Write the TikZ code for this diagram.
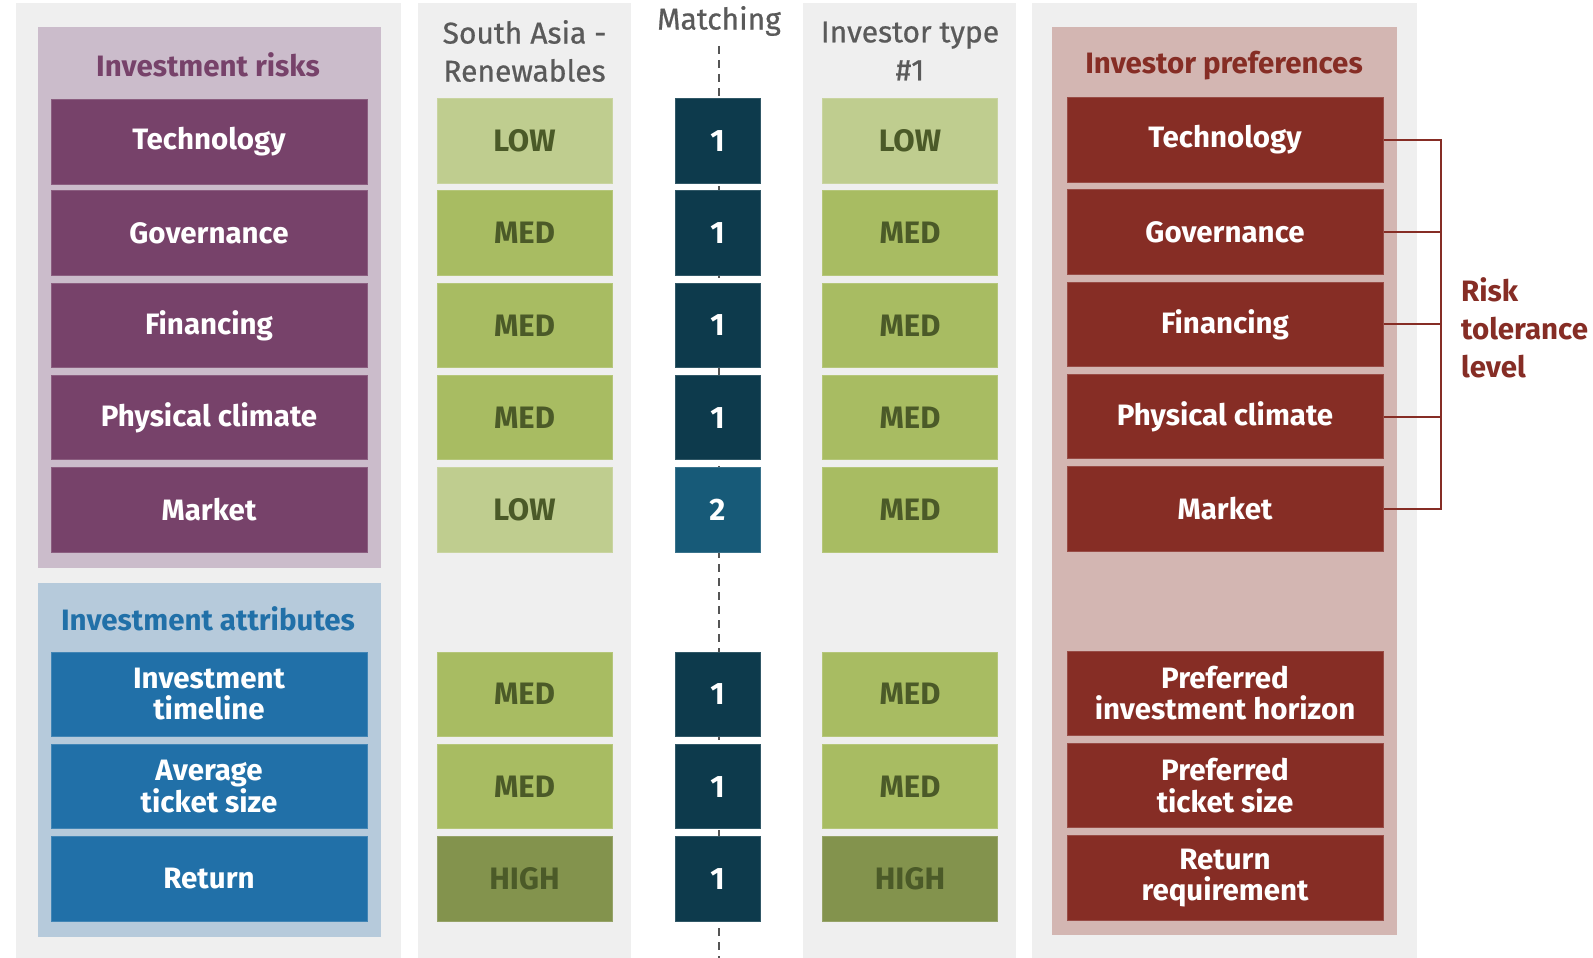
\documentclass[tikz,border=0pt]{standalone}
\usepackage{fontspec}
\setmainfont{Fira Sans}
\newfontfamily\medfam[FakeBold=0.7]{Fira Sans}
\definecolor{panelgrey}{HTML}{EFEFEF}
\definecolor{purplebg}{HTML}{CBBCCB}
\definecolor{purplebox}{HTML}{77426A}
\definecolor{bluebg}{HTML}{B6CADB}
\definecolor{bluebox}{HTML}{2170A8}
\definecolor{redbg}{HTML}{D3B6B2}
\definecolor{redbox}{HTML}{862D25}
\definecolor{glow}{HTML}{BFCD8F}
\definecolor{gmed}{HTML}{A8BC62}
\definecolor{ghigh}{HTML}{83934D}
\definecolor{gtext}{HTML}{4B5A28}
\definecolor{mdark}{HTML}{0D3A4C}
\definecolor{mlight}{HTML}{175A78}
\definecolor{headgrey}{HTML}{5A5A5A}
\definecolor{dashgrey}{HTML}{555555}
\newcommand\boxfont{\fontsize{29.5}{31.5}\selectfont\bfseries}
\newcommand\lvlfont{\fontsize{31}{31.5}\selectfont\bfseries}
\newcommand\headfont{\fontsize{30}{38}\selectfont\medfam}
\tikzset{
  x=1pt, y=-1pt,
  panel/.style={fill=panelgrey, draw=none},
  catbox/.style={minimum width=316pt, minimum height=84.5pt, inner sep=0pt, align=center, text=white, font=\boxfont},
  purplecell/.style={catbox, fill=purplebox, draw=purplebox!85!white, line width=1pt},
  bluecell/.style={catbox, fill=bluebox, draw=bluebox!85!white, line width=1pt},
  redcell/.style={catbox, fill=redbox, draw=redbox!85!white, line width=1pt},
  lvl/.style={minimum width=175pt, minimum height=84.5pt, inner sep=0pt, text=gtext, font=\lvlfont, line width=1pt},
  lowcell/.style={lvl, fill=glow, draw=glow!85!white},
  medcell/.style={lvl, fill=gmed, draw=gmed!85!white},
  highcell/.style={lvl, fill=ghigh, draw=ghigh!85!white},
  matchcell/.style={minimum width=85pt, minimum height=84.5pt, inner sep=0pt, text=white, font=\lvlfont, fill=mdark, draw=mdark!85!white, line width=1pt},
  match2cell/.style={matchcell, fill=mlight, draw=mlight!85!white},
  heading/.style={align=center, text=headgrey, font=\headfont, inner sep=0pt},
  title/.style={font=\boxfont, inner sep=0pt},
  brk/.style={draw=redbox, line width=2pt},
  dashline/.style={draw=dashgrey, line width=2pt, dash pattern=on 8pt off 6pt}
}
\begin{document}
\begin{tikzpicture}
\useasboundingbox (0,0) rectangle (1593,958);
\fill[white] (0,0) rectangle (1593,958);
% grey panels
\fill[panel] (16,3) rectangle (401,958);
\fill[panel] (418,3) rectangle (631,958);
\fill[panel] (803,3) rectangle (1016,958);
\fill[panel] (1032,3) rectangle (1417,958);
% coloured panels
\fill[purplebg] (37.5,27) rectangle (381,568);
\fill[bluebg] (37.5,583) rectangle (381,937);
\fill[redbg] (1052,27) rectangle (1397,935);
% titles
\node[title, text=purplebox] (tRisk) at (208,65) {Investment risks};
\node[title, text=bluebox] (tAttr) at (208,619) {Investment attributes};
\node[title, text=redbox] (tPref) at (1224,66) {Investor preferences};
% headings
\node[heading] (hSA) at (524.5,51) {South Asia -\\Renewables};
\node[heading] (hM) at (719,21) {Matching};
\node[heading] (hIT) at (910,51) {Investor type\\\#1};
% dashed matching line
\coordinate (dTop) at (719,46);
\coordinate (dBot) at (719,958);
\draw[dashline] (dTop) -- (dBot);
% left column
\node[purplecell] (l1) at (209,142) {Technology};
\node[purplecell] (l2) at (209,233.05) {Governance};
\node[purplecell] (l3) at (209,325.35) {Financing};
\node[purplecell] (l4) at (209,417.65) {Physical climate};
\node[purplecell] (l5) at (209,509.95) {Market};
\node[bluecell] (l6) at (209,694.25) {Investment\\timeline};
\node[bluecell] (l7) at (209,786.55) {Average\\ticket size};
\node[bluecell] (l8) at (209,878.85) {Return};
% South Asia column
\node[lowcell] (s1) at (524.5,140.75) {LOW};
\node[medcell] (s2) at (524.5,233.05) {MED};
\node[medcell] (s3) at (524.5,325.35) {MED};
\node[medcell] (s4) at (524.5,417.65) {MED};
\node[lowcell] (s5) at (524.5,509.95) {LOW};
\node[medcell] (s6) at (524.5,694.25) {MED};
\node[medcell] (s7) at (524.5,786.55) {MED};
\node[highcell] (s8) at (524.5,878.85) {HIGH};
% matching column
\node[matchcell] (m1) at (717.5,140.75) {1};
\node[matchcell] (m2) at (717.5,233.05) {1};
\node[matchcell] (m3) at (717.5,325.35) {1};
\node[matchcell] (m4) at (717.5,417.65) {1};
\node[match2cell] (m5) at (717.5,509.95) {2};
\node[matchcell] (m6) at (717.5,694.25) {1};
\node[matchcell] (m7) at (717.5,786.55) {1};
\node[matchcell] (m8) at (717.5,878.85) {1};
% investor type column
\node[lowcell] (i1) at (910,140.75) {LOW};
\node[medcell] (i2) at (910,233.05) {MED};
\node[medcell] (i3) at (910,325.35) {MED};
\node[medcell] (i4) at (910,417.65) {MED};
\node[medcell] (i5) at (910,509.95) {MED};
\node[medcell] (i6) at (910,694.25) {MED};
\node[medcell] (i7) at (910,786.55) {MED};
\node[highcell] (i8) at (910,878.85) {HIGH};
% investor preferences column
\node[redcell] (r1) at (1225,139.75) {Technology};
\node[redcell] (r2) at (1225,232.05) {Governance};
\node[redcell] (r3) at (1225,324.35) {Financing};
\node[redcell] (r4) at (1225,416.65) {Physical climate};
\node[redcell] (r5) at (1225,508.95) {Market};
\node[redcell] (r6) at (1225,693.25) {Preferred\\investment horizon};
\node[redcell] (r7) at (1225,785.55) {Preferred\\ticket size};
\node[redcell] (r8) at (1225,877.85) {Return\\requirement};
% bracket
\coordinate (bx) at (1441,0);
\draw[brk] (r1.east) -- (r1.east -| bx) -- (r5.east -| bx) -- (r5.east);
\draw[brk] (r2.east) -- (r2.east -| bx);
\draw[brk] (r3.east) -- (r3.east -| bx);
\draw[brk] (r4.east) -- (r4.east -| bx);
\node[anchor=west, align=left, text=redbox, font={\fontsize{29.5}{38}\selectfont\bfseries}, inner sep=0pt] (risk) at (1461,328) {Risk\\tolerance\\level};
\end{tikzpicture}
\end{document}
